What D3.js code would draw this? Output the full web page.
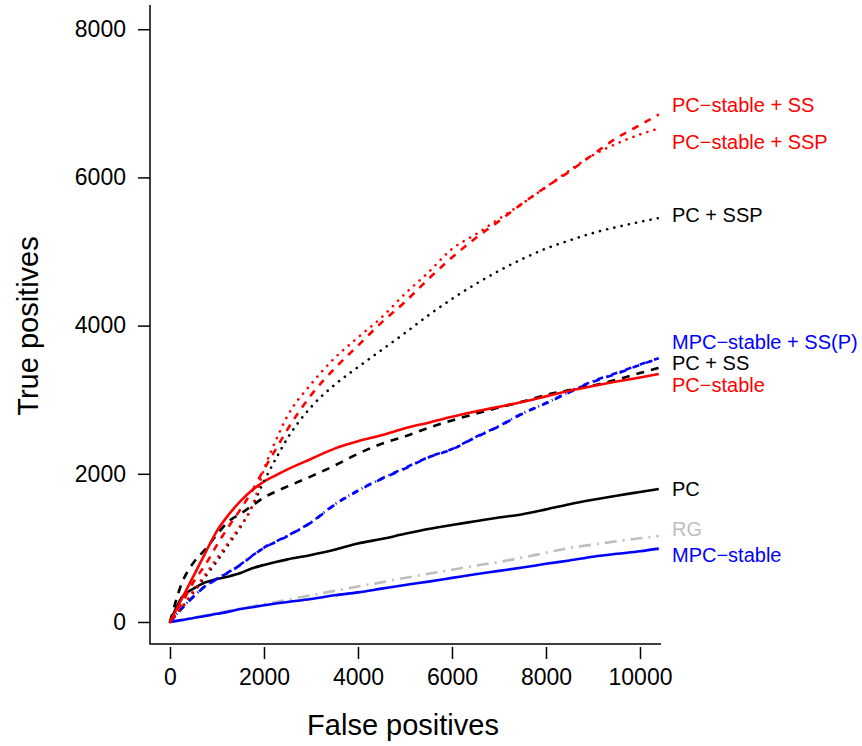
<!DOCTYPE html>
<html lang="en">
<head>
    <meta charset="UTF-8">
    <title>True vs false positives</title>
    <style>
        body { margin: 0; background: #fff; }
        text { font-family: "Liberation Sans", Arial, sans-serif; }
    </style>
</head>
<body>
    <div class="graph-container"></div>

    <script src="https://d3js.org/d3.v7.min.js"></script>
    <script>
        // False positive grid shared by every curve
        var fp = [0, 250, 500, 750, 1000, 1250, 1500, 1750, 2000, 2250, 2500, 3000, 3500, 4000,
                  4500, 5000, 5500, 6000, 6500, 7000, 7500, 8000, 8500, 9000, 9500, 10000, 10400];

        // True positives for each method
        var pcStableSS  = [0, 250, 540, 770, 1040, 1290, 1520, 1770, 2060, 2330, 2600, 3060, 3420, 3730,
                           4040, 4320, 4630, 4920, 5180, 5410, 5650, 5870, 6080, 6310, 6530, 6707, 6850];
        var pcStableSSP = [0, 200, 420, 640, 860, 1080, 1300, 1560, 2060, 2450, 2780, 3210, 3560, 3840,
                           4110, 4430, 4720, 5035, 5230, 5440, 5650, 5870, 6095, 6300, 6455, 6580, 6660];
        var pcSSP       = [0, 190, 400, 610, 820, 1050, 1280, 1560, 1900, 2200, 2480, 2900, 3200, 3440,
                           3670, 3900, 4140, 4360, 4560, 4740, 4900, 5040, 5150, 5250, 5330, 5400, 5452];
        var mpcStableSS = [0, 180, 340, 480, 580, 670, 770, 890, 1000, 1080, 1160, 1340, 1580, 1770,
                           1930, 2070, 2220, 2330, 2490, 2640, 2810, 2950, 3100, 3240, 3350, 3470, 3555];
        var mpcStableSSP = [0, 185, 345, 485, 585, 675, 775, 895, 1005, 1085, 1165, 1345, 1585, 1775,
                           1935, 2080, 2225, 2335, 2495, 2645, 2815, 2955, 3110, 3250, 3360, 3475, 3560];
        var pcSS        = [0, 520, 800, 980, 1180, 1360, 1460, 1570, 1680, 1760, 1830, 1965, 2110, 2270,
                           2405, 2505, 2620, 2720, 2810, 2895, 2975, 3065, 3130, 3190, 3270, 3360, 3430];
        var pcStable    = [0, 310, 620, 930, 1230, 1450, 1630, 1780, 1895, 1980, 2060, 2200, 2340, 2440,
                           2520, 2615, 2690, 2770, 2840, 2905, 2970, 3045, 3120, 3185, 3245, 3300, 3347];
        var pc          = [0, 330, 450, 535, 580, 615, 660, 725, 770, 810, 845, 905, 975, 1060,
                           1120, 1190, 1255, 1310, 1360, 1410, 1455, 1520, 1590, 1650, 1705, 1755, 1795];
        var rg          = [0, 30, 60, 90, 120, 150, 180, 210, 240, 270, 300, 360, 420, 480,
                           535, 595, 650, 705, 760, 810, 870, 935, 1000, 1045, 1090, 1130, 1160];
        var mpcStable   = [0, 25, 55, 80, 110, 140, 175, 200, 225, 250, 270, 310, 360, 400,
                           450, 500, 545, 595, 645, 690, 735, 785, 830, 880, 920, 955, 990];

        // Right-hand labels and the true-positive level each sits at
        var labels  = ["PC\u2212stable + SS", "PC\u2212stable + SSP", "PC + SSP", "MPC\u2212stable + SS(P)",
                       "PC + SS", "PC\u2212stable", "PC", "RG", "MPC\u2212stable"];
        var labelTp = [6977, 6478, 5493, 3783, 3495, 3198, 1795, 1255, 904];
        var labelColors = ["#ff0000", "#ff0000", "#000000", "#0000ff", "#000000", "#ff0000", "#000000", "#bebebe", "#0000ff"];

        var xTicks = [0, 2000, 4000, 6000, 8000, 10000];
        var yTicks = [0, 2000, 4000, 6000, 8000];

        var series = [
            { values: rg,           color: "#bebebe", dash: "12 6 2 6" },
            { values: mpcStable,    color: "#0000ff", dash: null },
            { values: pc,           color: "#000000", dash: null },
            { values: mpcStableSS,  color: "#0000ff", dash: "7 7" },
            { values: mpcStableSSP, color: "#0000ff", dash: "6 4 1 4" },
            { values: pcSS,         color: "#000000", dash: "8 7" },
            { values: pcStable,     color: "#ff0000", dash: null },
            { values: pcSSP,        color: "#000000", dash: "0.1 7.3", round: true },
            { values: pcStableSSP,  color: "#ff0000", dash: "0.1 7.3", round: true },
            { values: pcStableSS,   color: "#ff0000", dash: "7 7" }
        ];

        var canvasWidth = 862;
        var canvasHeight = 746;

        var svg = d3.select(".graph-container")
            .append("svg")
            .attr("width", canvasWidth)
            .attr("height", canvasHeight);

        // Plot region runs 150..661 horizontally, 5..644 vertically
        var x = d3.scaleLinear().domain([-425, 10447]).range([150, 661]);
        var y = d3.scaleLinear().domain([-297, 8327]).range([644, 5]);

        // L-shaped box
        svg.append("path")
            .attr("d", "M" + x.range()[0] + "," + y.range()[1] + "V" + y.range()[0] + "H" + x.range()[1])
            .attr("fill", "none")
            .attr("stroke", "#000")
            .attr("stroke-width", 1.5);

        // X axis, offset a little below the box
        var xAxis = d3.axisBottom(x).tickValues(xTicks).tickSize(12).tickPadding(10)
            .tickFormat(d3.format("d"));
        svg.append("g")
            .attr("transform", "translate(0," + (y.range()[0] + 3) + ")")
            .call(xAxis)
            .call(function(g) {
                g.select(".domain").remove();
                g.selectAll("line").attr("stroke-width", 1.5);
                g.selectAll("text").attr("font-size", 23).attr("font-family", "Liberation Sans, Arial, sans-serif").attr("fill", "#000");
            });

        // Y axis, ticks hanging left of the box
        var yAxis = d3.axisLeft(y).tickValues(yTicks).tickSize(12).tickPadding(12)
            .tickFormat(d3.format("d"));
        svg.append("g")
            .attr("transform", "translate(" + x.range()[0] + ",0)")
            .call(yAxis)
            .call(function(g) {
                g.select(".domain").remove();
                g.selectAll("line").attr("stroke-width", 1.5);
                g.selectAll("text").attr("font-size", 23).attr("font-family", "Liberation Sans, Arial, sans-serif").attr("fill", "#000");
            });

        // Curves
        var line = d3.line()
            .curve(d3.curveMonotoneX)
            .x(function(d, i) { return x(fp[i]); })
            .y(function(d) { return y(d); });

        svg.append("g")
            .attr("class", "curves")
            .selectAll("path")
            .data(series)
            .enter()
                .append("path")
                .attr("d", function(d) { return line(d.values); })
                .attr("fill", "none")
                .attr("stroke", function(d) { return d.color; })
                .attr("stroke-width", 2.6)
                .attr("stroke-linecap", function(d) { return d.round ? "round" : "butt"; })
                .attr("stroke-linejoin", "round")
                .attr("stroke-dasharray", function(d) { return d.dash; });

        // Labels at the ends of the curves
        svg.append("g")
            .attr("class", "labels")
            .selectAll("text")
            .data(labels)
            .enter()
                .append("text")
                .attr("x", 672)
                .attr("y", function(d, i) { return y(labelTp[i]); })
                .attr("dy", "0.36em")
                .attr("font-size", 20)
                .attr("fill", function(d, i) { return labelColors[i]; })
                .text(function(d) { return d; });

        // Axis titles
        svg.append("text")
            .attr("x", 403)
            .attr("y", 735)
            .attr("text-anchor", "middle")
            .attr("font-size", 29)
            .text("False positives");

        svg.append("text")
            .attr("transform", "translate(38,326) rotate(-90)")
            .attr("text-anchor", "middle")
            .attr("font-size", 29)
            .text("True positives");
    </script>
</body>
</html>
